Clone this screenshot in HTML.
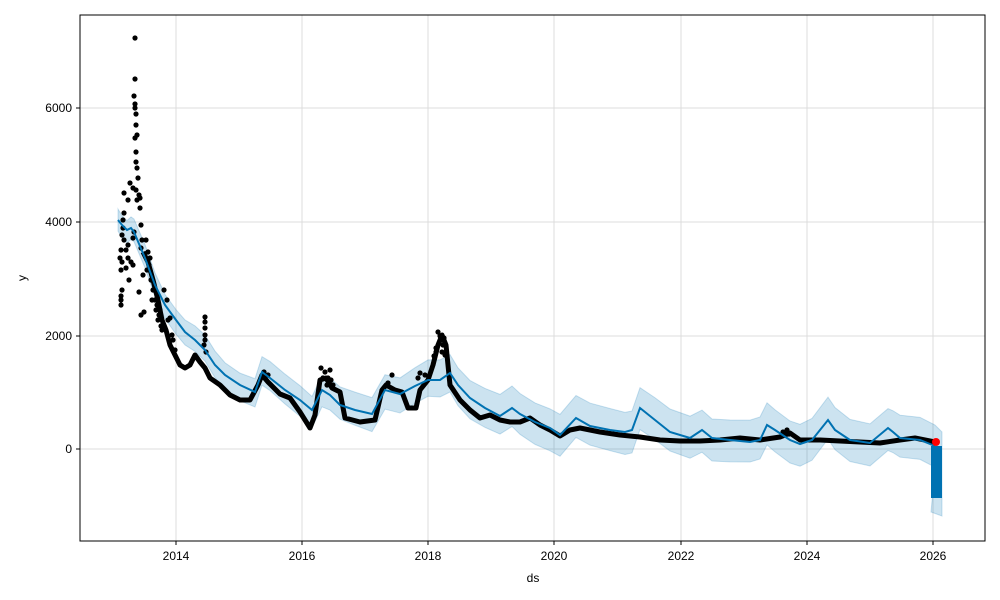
<!DOCTYPE html>
<html><head><meta charset="utf-8"><style>body{margin:0;background:#fff}svg{display:block;font-family:"Liberation Sans","DejaVu Sans",sans-serif}</style></head>
<body>
<svg width="1000" height="600" xmlns="http://www.w3.org/2000/svg">
<rect width="1000" height="600" fill="#fff"/>
<g stroke="#dcdcdc" stroke-width="1">
<line x1="176" y1="15" x2="176" y2="541"/><line x1="302" y1="15" x2="302" y2="541"/><line x1="428" y1="15" x2="428" y2="541"/><line x1="554" y1="15" x2="554" y2="541"/><line x1="681" y1="15" x2="681" y2="541"/><line x1="807" y1="15" x2="807" y2="541"/><line x1="933" y1="15" x2="933" y2="541"/>
<line x1="80" y1="108" x2="985" y2="108"/><line x1="80" y1="222" x2="985" y2="222"/><line x1="80" y1="336" x2="985" y2="336"/><line x1="80" y1="449" x2="985" y2="449"/>
</g>
<g id="band"></g>
<g id="data"></g>
<polyline id="fc" fill="none" stroke="#0072B2" stroke-width="2"/>
<rect x="931" y="446" width="11" height="52" fill="#0072B2"/>
<circle cx="936" cy="442" r="4" fill="red"/>
<rect x="80" y="15" width="905" height="526" fill="none" stroke="#000" stroke-width="1"/>
<g font-size="12" fill="#000" text-anchor="middle">
<text x="176" y="560">2014</text><text x="302" y="560">2016</text><text x="428" y="560">2018</text><text x="554" y="560">2020</text><text x="681" y="560">2022</text><text x="807" y="560">2024</text><text x="933" y="560">2026</text>
<text x="533" y="582">ds</text>
</g>
<g font-size="12" fill="#000" text-anchor="end">
<text x="72" y="112">6000</text><text x="72" y="226">4000</text><text x="72" y="340">2000</text><text x="72" y="453">0</text>
</g>
<text x="26" y="278" font-size="12" text-anchor="middle" transform="rotate(-90 26 278)">y</text>
<g stroke="#000" stroke-width="1"><line x1="176" y1="541" x2="176" y2="545"/><line x1="302" y1="541" x2="302" y2="545"/><line x1="428" y1="541" x2="428" y2="545"/><line x1="554" y1="541" x2="554" y2="545"/><line x1="681" y1="541" x2="681" y2="545"/><line x1="807" y1="541" x2="807" y2="545"/><line x1="933" y1="541" x2="933" y2="545"/>
<line x1="76" y1="108" x2="80" y2="108"/><line x1="76" y1="222" x2="80" y2="222"/><line x1="76" y1="336" x2="80" y2="336"/><line x1="76" y1="449" x2="80" y2="449"/></g>
<script>
var F=[[118,220],[122,225],[127,230],[131,228],[134,232],[145,258],[155,285],[165,305],[176,320],[185,332],[195,340],[205,350],[215,365],[225,375],[240,385],[255,392],[262,372],[270,378],[285,390],[300,400],[312,410],[322,390],[330,395],[340,405],[355,410],[372,414],[385,390],[400,394],[415,386],[428,380],[440,380],[450,373],[458,385],[470,398],[485,408],[500,416],[512,408],[520,414],[535,422],[550,428],[560,435],[576,418],[590,426],[610,430],[625,432],[632,430],[640,408],[655,420],[670,432],[690,438],[702,430],[712,438],[730,440],[750,442],[760,440],[767,425],[775,430],[790,440],[800,444],[812,440],[828,420],[835,430],[850,440],[870,443],[888,428],[893,432],[900,438],[920,440],[935,446]];
var ns="http://www.w3.org/2000/svg";
document.getElementById('fc').setAttribute('points',F.map(p=>p.join(',')).join(' '));
function w(x){return 11+Math.min(1,(x-118)/430)*10;}
function jit(i){return Math.sin(i*7.3)*2;}
var up=F.map((p,i)=>p[0]+','+(p[1]-w(p[0])+jit(i))),dn=F.slice().reverse().map((p,i)=>p[0]+','+(p[1]+w(p[0])+jit(i+3)));
up.push('942,432');dn.unshift('942,516','931,512');
var b=document.createElementNS(ns,'polygon');b.setAttribute('points',up.concat(dn).join(' '));b.setAttribute('fill','#0072B2');b.setAttribute('fill-opacity','0.2');b.setAttribute('stroke','#0072B2');b.setAttribute('stroke-opacity','0.2');document.getElementById('band').appendChild(b);
var D=[[143,252],[148,262],[153,280],[158,300],[162,320],[166,330],[170,345],[175,355],[180,365],[185,368],[190,365],[195,355],[200,362],[205,368],[210,378],[220,385],[230,395],[240,400],[250,400],[258,385],[262,375],[268,382],[280,394],[290,398],[300,412],[310,428],[315,415],[320,380],[326,378],[332,388],[340,392],[345,418],[360,422],[375,420],[382,390],[386,385],[395,390],[402,392],[408,408],[416,408],[420,390],[428,380],[433,365],[438,345],[442,335],[446,345],[450,385],[460,400],[470,410],[480,418],[490,415],[500,420],[510,422],[520,422],[530,418],[540,425],[550,430],[560,436],[570,430],[580,428],[600,432],[620,435],[640,437],[660,440],[680,441],[700,441],[720,440],[740,438],[760,440],[780,437],[790,433],[800,440],[820,440],[840,441],[860,442],[880,443],[900,440],[915,438],[935,442]];
var g=document.getElementById('data');
var pl=document.createElementNS(ns,'polyline');pl.setAttribute('points',D.map(p=>p.join(',')).join(' '));pl.setAttribute('fill','none');pl.setAttribute('stroke','#000');pl.setAttribute('stroke-width','5');pl.setAttribute('stroke-linejoin','round');g.appendChild(pl);
var dots=[[135,38],[135,79],[134,96],[135,104],[135,108],[136,114],[136,125],[137,135],[135,138],[136,152],[136,162],[137,168],[138,178],[136,190],[133,188],[139,195],[130,183],[124,193],[140,208],[140,198],[128,200],[137,200],[124,213],[123,220],[123,228],[122,235],[124,240],[121,250],[120,258],[122,262],[121,270],[126,268],[122,290],[121,296],[121,305],[121,300],[126,250],[128,245],[129,280],[128,258],[131,262],[133,265],[133,238],[134,232],[141,225],[142,240],[141,248],[143,275],[139,292],[144,312],[141,315],[146,240],[148,252],[147,270],[150,258],[151,280],[153,290],[152,300],[155,300],[156,310],[158,320],[160,310],[161,326],[162,330],[164,290],[167,300],[168,320],[170,318],[172,335],[173,340],[175,350],[149,265],[150,270],[155,290],[157,305],[159,315],[163,325],[205,317],[205,322],[205,328],[205,335],[205,340],[204,345],[206,352],[321,368],[325,372],[328,378],[330,370],[331,380],[333,385],[323,378],[327,385],[434,356],[436,352],[438,332],[440,336],[441,340],[444,338],[443,345],[442,352],[445,355],[436,348],[388,383],[392,375],[420,373],[425,375],[418,378],[783,432],[787,430],[789,434],[264,372],[268,375]];
dots.forEach(p=>{var c=document.createElementNS(ns,'circle');c.setAttribute('cx',p[0]);c.setAttribute('cy',p[1]);c.setAttribute('r','2.6');c.setAttribute('fill','#000');g.appendChild(c);});
</script>
</svg>
</body></html>
